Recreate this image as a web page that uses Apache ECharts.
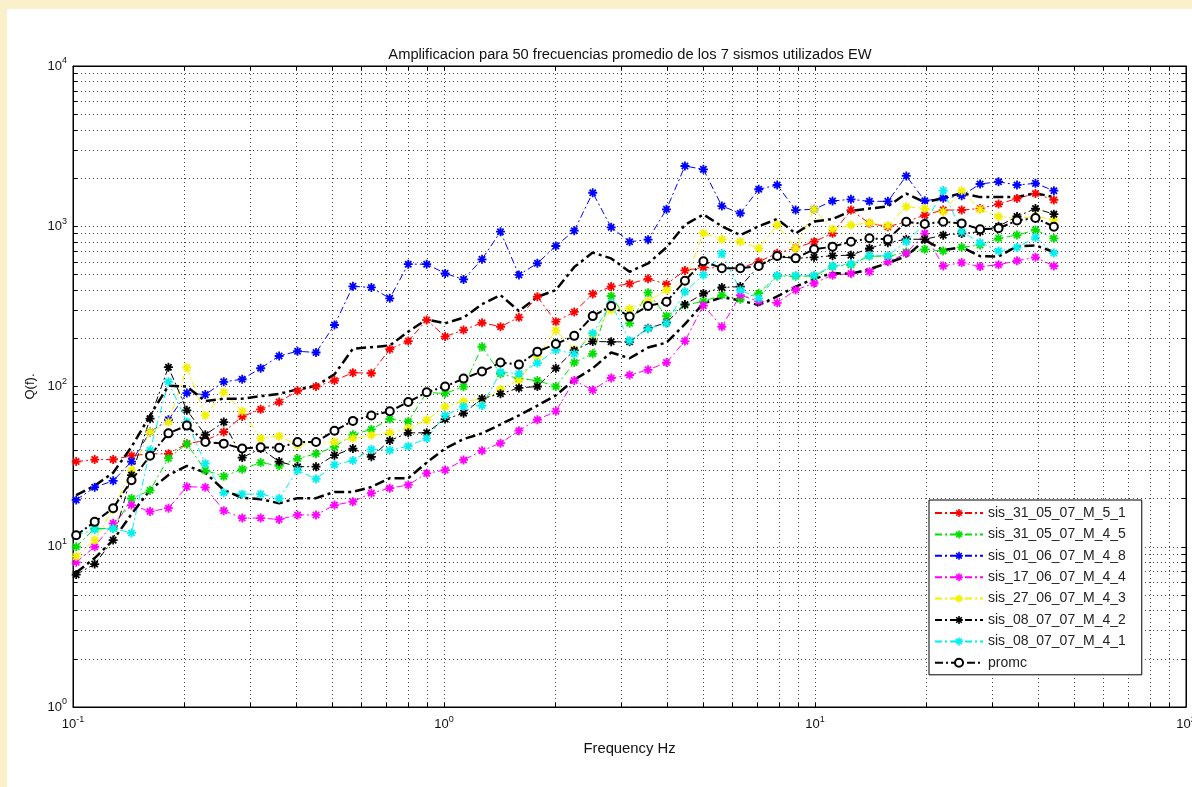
<!DOCTYPE html>
<html><head><meta charset="utf-8">
<script src="https://cdn.jsdelivr.net/npm/echarts@6/dist/echarts.min.js"></script>
<style>html,body{margin:0;padding:0;background:#fff}#c{width:1192px;height:787px}</style>
</head><body><div id="c"></div><script>
// ---------- data ----------
const freqs = [0.102, 0.1144, 0.1283, 0.1438, 0.1613, 0.1808, 0.2027, 0.2273, 0.2549, 0.2858,
  0.3205, 0.3594, 0.4030, 0.4519, 0.5067, 0.5681, 0.6370, 0.7143, 0.8009, 0.8981,
  1.007, 1.129, 1.266, 1.420, 1.592, 1.785, 2.002, 2.244, 2.517, 2.822,
  3.164, 3.548, 3.978, 4.461, 5.002, 5.609, 6.289, 7.052, 7.908, 8.867,
  9.942, 11.15, 12.50, 14.02, 15.72, 17.62, 19.76, 22.16, 24.85, 27.86,
  31.24, 35.03, 39.28, 44.04];
const sis_31_05_07_M_5_1 = [34,35,35,37,38,38,44,46,52,65, 72,80,94,100,109,122,121,171,192,260,
  205,225,250,236,270,363,254,292,378,420, 438,470,435,530,554,547,547,601,678,731,
  801,903,1262,1042,994,1067,1175,1262,1262,1290, 1375,1490,1600,1460];
const sis_31_05_07_M_4_5 = [10,13,13,20,22.5,35.7,43.8,30,27.5,30.5, 33.5,32,35.5,38,42,50,54,62.6,60.5,91.7,
  90.6,99.7,177,120,112,109,100,141,160,367, 248,385,275,322,340,372,350,382,489,487,
  489,560,575,652,647,690,718,700,739,763, 841,881,948,841];
const sis_01_06_07_M_4_8 = [19.6,23.5,25.8,34,52,62,91,89,107,111, 130,155,166,163,242,422,415,355,580,580,
  508,466,622,925,497,587,753,938,1618,985, 801,825,1276,2376,2265,1337,1205,1702,1809,1262,
  1276,1438,1473,1430,1430,2060,1443,1495,1550,1835, 1895,1809,1852,1667];
const sis_17_06_07_M_4_4 = [8,10,14,18.2,16.6,17.4,23.7,23.5,16.8,15.1, 15.1,14.8,15.8,15.8,18.2,19.1,21.6,23.2,24.3,28.7,
  30.1,34.8,39.7,44.3,53,62,70,109,95,113, 118,127,141,192,320,236,372,340,333,400,
  441,495,507,521,600,678,900,565,593,560, 575,609,640,565];
const sis_27_06_07_M_4_3 = [8.7,11,17.1,30,52,60,131,66,92,70, 47.5,49,43,45,45,47.5,49.6,51.4,54.8,61.8,
  74.8,81,83.3,96,110,153,224,170,210,300, 306,340,400,455,905,829,801,728,1018,728,
  1276,957,1018,1048,1010,1325,1290,1233,1667,1270, 1150,1120,1150,1100];
const sis_08_07_07_M_4_2 = [6.7,7.8,11,28,63,132,71,50,60,36, 41,34,31.6,31.6,37.3,41,36.4,46,51.4,51.4,
  62.6,68,84,90,98,100,130,168,191,190, 190,231,250,325,380,415,420,565,647,631,
  640,655,660,728,790,830,829,880,900,925, 1000,1150,1290,1190];
const sis_08_07_07_M_4_1 = [11.8,12.8,13,12.2,40,107,60,33,21.7,21.3, 21.3,20,30,26.5,32.5,34.5,40.5,40,42.4,47.5,
  66,75,76,123,120,140,169,160,215,331, 193,229,248,390,497,675,400,355,493,493,
  493,565,584,655,655,800,1030,1670,925,790, 700,737,850,680];
const promc = [11.8,14.3,17.4,26,37,51,57,45,44,41, 41.7,41.5,45,45,53,61,66,70,80,92,
  100,112,124,141,137,165,184,207,275,318, 273,318,338,457,605,547,547,565,652,631,
  718,746,801,841,829,1067,1032,1067,1042,957, 971,1085,1125,994];
const promcUpper = [21,24,29,42,66,101,100,81,84,84, 87,90,96,101,119,172,176,180,220,262,
  248,269,326,372,296,362,400,556,685,630, 520,586,738,1020,1185,1000,880,1000,1110,900,
  1070,1110,1245,1290,1330,1600,1410,1500,1610,1520, 1520,1520,1610,1520];
const promcLower = [6.9,8.5,11,16,22.6,28,32,29,22.6,20.2, 19.8,18.7,20.1,20.1,22,22,23.6,26.8,26.8,33.5,
  41,47,51,58,66,76,88,110,130,163, 150,175,188,245,330,360,345,322,365,420,
  470,510,505,540,590,650,820,710,740,650, 647,750,760,690];

const xLabelTicks = [0.1, 1, 10, 100];
const yLabelTicks = [1, 10, 100, 1000, 10000];
const xGridTicks = [0.1,0.2,0.3,0.4,0.5,0.6,0.7,0.8,0.9,1,2,3,4,5,6,7,8,9,10,20,30,40,50,60,70,80,90,100];
const yGridTicks = [1,2,3,4,5,6,7,8,9,10,20,30,40,50,60,70,80,90,100,200,300,400,500,600,700,800,900,1000,2000,3000,4000,5000,6000,7000,8000,9000,10000];

const titleText = 'Amplificacion para 50 frecuencias promedio de los 7 sismos utilizados EW';
const xName = 'Frequency Hz';
const yName = 'Q(f).';

// ---------- chart ----------
const FONT = 'Liberation Sans, Arial, sans-serif';
const STAR = 'path://M8 0L12 0L12 20L8 20Z M0 8L20 8L20 12L0 12Z M1.59 4.41L4.41 1.59L18.41 15.59L15.59 18.41Z M15.59 1.59L18.41 4.41L4.41 18.41L1.59 15.59Z';
const DASHDOT = [7, 3, 2, 3];
const pair = arr => freqs.map((f, i) => [f, arr[i]]);

function starSeries(name, arr, color) {
  return {
    name, type: 'line', data: pair(arr),
    symbol: STAR, symbolSize: 9,
    itemStyle: { color, borderWidth: 0 },
    lineStyle: { color, width: 1, type: DASHDOT },
    emphasis: { disabled: true }
  };
}
function expLabel(v) {
  const e = Math.round(Math.log10(v));
  return '{b|10}{s|' + e + '}';
}
const richLbl = {
  b: { fontSize: 13, fontFamily: FONT, color: '#111' },
  s: { fontSize: 9, fontFamily: FONT, color: '#111', padding: [0, 0, 10, 0] }
};
const gridLine = { show: true, lineStyle: { color: '#444', width: 1, type: [1, 3] } };

const legendNames = ['sis_31_05_07_M_5_1','sis_31_05_07_M_4_5','sis_01_06_07_M_4_8','sis_17_06_07_M_4_4',
  'sis_27_06_07_M_4_3','sis_08_07_07_M_4_2','sis_08_07_07_M_4_1','promc'];

const chart = echarts.init(document.getElementById('c'), null, { renderer: 'canvas' });
chart.setOption({
  animation: false,
  backgroundColor: '#fff',
  textStyle: { fontFamily: FONT },
  graphic: [
    { type: 'rect', left: 0, top: 0, shape: { width: 1192, height: 9 }, style: { fill: '#fbf0cc' }, z: -10 },
    { type: 'rect', left: 0, top: 0, shape: { width: 7, height: 787 }, style: { fill: '#fbf0cc' }, z: -10 }
  ],
  title: {
    text: titleText, left: 625, top: 42, textAlign: 'center',
    textStyle: { fontSize: 14.7, fontWeight: 'normal', color: '#111', fontFamily: FONT }
  },
  grid: { left: 73, right: 6, top: 66, bottom: 80, outerBoundsMode: 'none', containLabel: false,
    show: true, borderColor: '#000', borderWidth: 1, backgroundColor: '#fff' },
  legend: {
    data: legendNames, orient: 'vertical', left: 929, top: 500,
    itemWidth: 48, itemHeight: 10, itemGap: 7.4,
    backgroundColor: '#fff', borderColor: '#000', borderWidth: 1, borderRadius: 0,
    padding: [6, 16, 5, 5],
    textStyle: { fontSize: 14, color: '#222', fontFamily: FONT }
  },
  xAxis: [{
    type: 'log', logBase: 10, min: 0.1, max: 100, name: xName, nameLocation: 'middle', nameGap: 34,
    nameTextStyle: { fontSize: 14.8, color: '#111', fontFamily: FONT },
    axisLine: { show: true, lineStyle: { color: '#000' } },
    axisTick: { show: true, inside: true, length: 4, customValues: xGridTicks, lineStyle: { color: '#000' } },
    axisLabel: { customValues: xLabelTicks, formatter: expLabel, rich: richLbl, margin: 8 },
    splitLine: gridLine, minorTick: { show: false }
  }, {
    type: 'log', logBase: 10, min: 0.1, max: 100, position: 'top',
    axisLine: { show: true, lineStyle: { color: '#000' } },
    axisTick: { show: true, inside: true, length: 4, customValues: xGridTicks, lineStyle: { color: '#000' } },
    axisLabel: { show: false }, splitLine: { show: false }
  }],
  yAxis: [{
    type: 'log', logBase: 10, min: 1, max: 10000, name: yName, nameLocation: 'middle', nameGap: 35,
    nameTextStyle: { fontSize: 13, color: '#111', fontFamily: FONT },
    axisLine: { show: true, lineStyle: { color: '#000' } },
    axisTick: { show: true, inside: true, length: 4, customValues: yGridTicks, lineStyle: { color: '#000' } },
    axisLabel: { customValues: yLabelTicks, formatter: expLabel, rich: richLbl, margin: 6 },
    splitLine: gridLine
  }, {
    type: 'log', logBase: 10, min: 1, max: 10000, position: 'right',
    axisLine: { show: true, lineStyle: { color: '#000' } },
    axisTick: { show: true, inside: true, length: 4, customValues: yGridTicks, lineStyle: { color: '#000' } },
    axisLabel: { show: false }, splitLine: { show: false }
  }],
  series: [
    starSeries('sis_31_05_07_M_5_1', sis_31_05_07_M_5_1, '#ff0000'),
    starSeries('sis_31_05_07_M_4_5', sis_31_05_07_M_4_5, '#00e000'),
    starSeries('sis_01_06_07_M_4_8', sis_01_06_07_M_4_8, '#0000ff'),
    starSeries('sis_17_06_07_M_4_4', sis_17_06_07_M_4_4, '#ff00ff'),
    starSeries('sis_27_06_07_M_4_3', sis_27_06_07_M_4_3, '#f2f200'),
    starSeries('sis_08_07_07_M_4_2', sis_08_07_07_M_4_2, '#000000'),
    starSeries('sis_08_07_07_M_4_1', sis_08_07_07_M_4_1, '#00f0f0'),
    {
      name: 'promc', type: 'line', data: pair(promc),
      symbol: 'emptyCircle', symbolSize: 8,
      itemStyle: { color: '#000', borderWidth: 2 },
      lineStyle: { color: '#000', width: 2, type: [8, 3, 2, 3] },
      emphasis: { disabled: true }
    },
    {
      name: 'promc+', type: 'line', data: pair(promcUpper), symbol: 'none',
      lineStyle: { color: '#000', width: 2.5, type: [10, 4, 3, 4] }, emphasis: { disabled: true }
    },
    {
      name: 'promc-', type: 'line', data: pair(promcLower), symbol: 'none',
      lineStyle: { color: '#000', width: 2.5, type: [10, 4, 3, 4] }, emphasis: { disabled: true }
    }
  ]
});
</script></body></html>
